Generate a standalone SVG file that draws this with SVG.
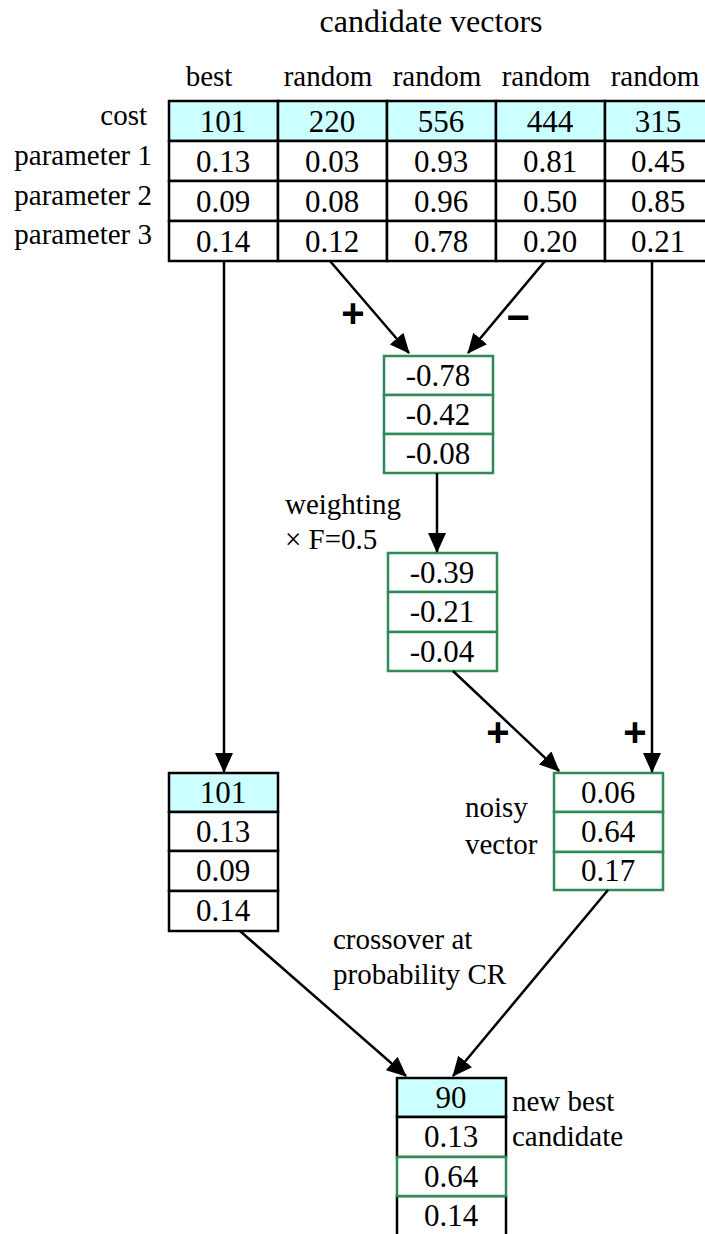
<svg xmlns="http://www.w3.org/2000/svg" width="705" height="1234" viewBox="0 0 705 1234">
<defs>
<style>
.t{font-family:"Liberation Serif","Times New Roman",serif;font-size:29px;fill:#000}
.n{font-size:31px}
.ti{font-size:32px}
.c{text-anchor:middle}
.e{text-anchor:end}
.s{font-family:"Liberation Sans",Arial,sans-serif;font-size:40px;font-weight:bold;fill:#000;text-anchor:middle}
.k{fill:#fff;stroke:#000;stroke-width:2.5}
.h{fill:#ccffff;stroke:#000;stroke-width:2.5}
.g{fill:#fff;stroke:#2e8b57;stroke-width:2.5}
.ln{stroke:#000;stroke-width:2.5;fill:none;marker-end:url(#ah)}
</style>
<marker id="ah" markerUnits="userSpaceOnUse" markerWidth="20" markerHeight="18" refX="19" refY="9" orient="auto" viewBox="0 0 20 18">
<path d="M0,0 L20,9 L0,18 Z" fill="#000"/>
</marker>
</defs>
<rect width="705" height="1234" fill="#fff"/>

<g id="labels">
<text class="t ti c" x="431" y="32">candidate vectors</text>
<text class="t c" x="209" y="86">best</text>
<text class="t c" x="328" y="86">random</text>
<text class="t c" x="437" y="86">random</text>
<text class="t c" x="546" y="86">random</text>
<text class="t c" x="655" y="86">random</text>
<text class="t e" x="147" y="125">cost</text>
<text class="t e" x="152" y="165">parameter 1</text>
<text class="t e" x="152" y="205">parameter 2</text>
<text class="t e" x="152" y="244">parameter 3</text>
<text class="t" x="285" y="514">weighting</text>
<text class="t" x="285" y="549">× F=0.5</text>
<text class="t" x="465" y="817">noisy</text>
<text class="t" x="465" y="854">vector</text>
<text class="t" x="333" y="949">crossover at</text>
<text class="t" x="333" y="984">probability CR</text>
<text class="t" x="512" y="1111">new best</text>
<text class="t" x="512" y="1146">candidate</text>
</g>

<g id="candidates">
<rect class="h" x="169" y="101" width="109" height="40"/>
<rect class="h" x="278" y="101" width="109" height="40"/>
<rect class="h" x="387" y="101" width="109" height="40"/>
<rect class="h" x="496" y="101" width="109" height="40"/>
<rect class="h" x="605" y="101" width="109" height="40"/>
<rect class="k" x="169" y="141" width="109" height="40"/>
<rect class="k" x="278" y="141" width="109" height="40"/>
<rect class="k" x="387" y="141" width="109" height="40"/>
<rect class="k" x="496" y="141" width="109" height="40"/>
<rect class="k" x="605" y="141" width="109" height="40"/>
<rect class="k" x="169" y="181" width="109" height="40"/>
<rect class="k" x="278" y="181" width="109" height="40"/>
<rect class="k" x="387" y="181" width="109" height="40"/>
<rect class="k" x="496" y="181" width="109" height="40"/>
<rect class="k" x="605" y="181" width="109" height="40"/>
<rect class="k" x="169" y="221" width="109" height="40"/>
<rect class="k" x="278" y="221" width="109" height="40"/>
<rect class="k" x="387" y="221" width="109" height="40"/>
<rect class="k" x="496" y="221" width="109" height="40"/>
<rect class="k" x="605" y="221" width="109" height="40"/>
<text class="t n c" x="223" y="132">101</text>
<text class="t n c" x="332" y="132">220</text>
<text class="t n c" x="441" y="132">556</text>
<text class="t n c" x="550" y="132">444</text>
<text class="t n c" x="658" y="132">315</text>
<text class="t n c" x="223" y="172">0.13</text>
<text class="t n c" x="332" y="172">0.03</text>
<text class="t n c" x="441" y="172">0.93</text>
<text class="t n c" x="550" y="172">0.81</text>
<text class="t n c" x="658" y="172">0.45</text>
<text class="t n c" x="223" y="212">0.09</text>
<text class="t n c" x="332" y="212">0.08</text>
<text class="t n c" x="441" y="212">0.96</text>
<text class="t n c" x="550" y="212">0.50</text>
<text class="t n c" x="658" y="212">0.85</text>
<text class="t n c" x="223" y="252">0.14</text>
<text class="t n c" x="332" y="252">0.12</text>
<text class="t n c" x="441" y="252">0.78</text>
<text class="t n c" x="550" y="252">0.20</text>
<text class="t n c" x="658" y="252">0.21</text>
</g>

<g id="difference">
<rect class="g" x="384" y="356" width="109" height="39"/>
<rect class="g" x="384" y="395" width="109" height="39"/>
<rect class="g" x="384" y="434" width="109" height="39"/>
<text class="t n c" x="438" y="386">-0.78</text>
<text class="t n c" x="438" y="425">-0.42</text>
<text class="t n c" x="438" y="464">-0.08</text>
</g>

<g id="weighted">
<rect class="g" x="388" y="553" width="109" height="39"/>
<rect class="g" x="388" y="592" width="109" height="40"/>
<rect class="g" x="388" y="632" width="109" height="39"/>
<text class="t n c" x="442" y="583">-0.39</text>
<text class="t n c" x="442" y="622">-0.21</text>
<text class="t n c" x="442" y="662">-0.04</text>
</g>

<g id="noisy">
<rect class="g" x="554" y="773" width="109" height="39"/>
<rect class="g" x="554" y="812" width="109" height="40"/>
<rect class="g" x="554" y="852" width="109" height="38"/>
<text class="t n c" x="608" y="803">0.06</text>
<text class="t n c" x="608" y="842">0.64</text>
<text class="t n c" x="608" y="881">0.17</text>
</g>

<g id="best">
<rect class="h" x="169" y="773" width="109" height="39"/>
<rect class="k" x="169" y="812" width="109" height="39"/>
<rect class="k" x="169" y="851" width="109" height="40"/>
<rect class="k" x="169" y="891" width="109" height="40"/>
<text class="t n c" x="223" y="803">101</text>
<text class="t n c" x="223" y="842">0.13</text>
<text class="t n c" x="223" y="881">0.09</text>
<text class="t n c" x="223" y="921">0.14</text>
</g>

<g id="newbest">
<rect class="h" x="397" y="1078" width="109" height="39"/>
<rect class="k" x="397" y="1117" width="109" height="40"/>
<rect class="k" x="397" y="1196" width="109" height="60"/>
<rect class="g" x="397" y="1157" width="109" height="39"/>
<text class="t n c" x="451" y="1108">90</text>
<text class="t n c" x="451" y="1147">0.13</text>
<text class="t n c" x="451" y="1187">0.64</text>
<text class="t n c" x="451" y="1226">0.14</text>
</g>

<g id="connectors">
<line class="ln" x1="224" y1="261" x2="224" y2="772"/>
<line class="ln" x1="330" y1="261" x2="409" y2="353"/>
<line class="ln" x1="545" y1="261" x2="468" y2="353"/>
<line class="ln" x1="652" y1="261" x2="652" y2="772"/>
<line class="ln" x1="437" y1="473" x2="437" y2="552"/>
<line class="ln" x1="453" y1="671" x2="559" y2="771"/>
<line class="ln" x1="240" y1="931" x2="406" y2="1076"/>
<line class="ln" x1="608" y1="890" x2="453" y2="1076"/>
<text class="s" x="353" y="327">+</text>
<text class="s" x="518" y="331">−</text>
<text class="s" x="498" y="746">+</text>
<text class="s" x="635" y="746">+</text>
</g>
</svg>
